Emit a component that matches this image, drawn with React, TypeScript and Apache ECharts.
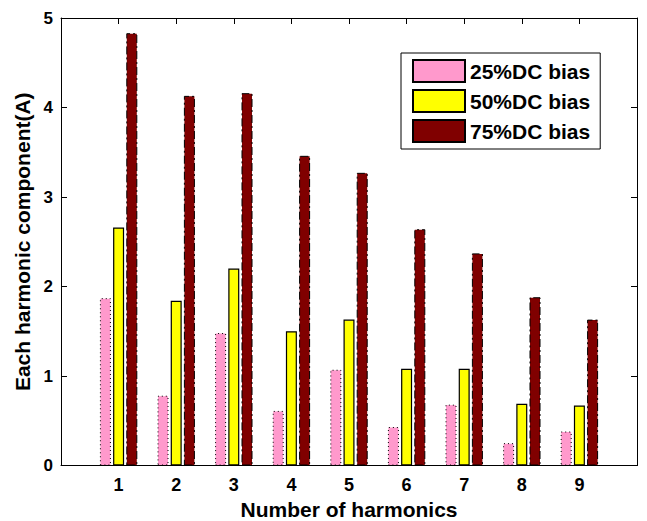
import React, { useEffect, useRef } from "react";
import * as echarts from "echarts";

// Harmonic order on the x axis
const harmonics = [1, 2, 3, 4, 5, 6, 7, 8, 9];

// Harmonic current amplitude (A) for each DC bias level
const bias25 = [1.87, 0.78, 1.48, 0.61, 1.07, 0.43, 0.68, 0.25, 0.38];
const bias50 = [2.66, 1.84, 2.2, 1.5, 1.63, 1.08, 1.08, 0.69, 0.67];
const bias75 = [4.83, 4.13, 4.16, 3.46, 3.27, 2.64, 2.37, 1.88, 1.63];

const seriesNames = ["25%DC bias", "50%DC bias", "75%DC bias"];
const yTicks = [0, 1, 2, 3, 4, 5];

const FONT = '"Liberation Sans", Arial, Helvetica, sans-serif';

const pair = (vals: number[]) => harmonics.map((h, i) => [h, vals[i]]);

export default function App() {
  const ref = useRef<HTMLDivElement>(null);

  useEffect(() => {
    if (!ref.current) return;
    const chart = echarts.init(ref.current, null, { renderer: "svg" });

    const frameAxisX = {
      type: "value" as const,
      min: 0,
      max: 10,
      interval: 1,
    };
    const frameAxisY = {
      type: "value" as const,
      min: yTicks[0],
      max: yTicks[yTicks.length - 1],
      interval: 1,
    };
    const lineStyle = { color: "#000", width: 1 };

    chart.setOption({
      animation: false,
      backgroundColor: "#fff",
      textStyle: { fontFamily: FONT },
      grid: {
        left: 61,
        right: 10,
        top: 18,
        bottom: 55.5,
        show: false,
        containLabel: false,
        outerBoundsMode: "none",
      },
      legend: {
        orient: "vertical",
        left: 401,
        top: 53,
        padding: [6, 10, 6, 11],
        itemWidth: 52,
        itemHeight: 22,
        itemGap: 6,
        borderColor: "#000",
        borderWidth: 1,
        backgroundColor: "#fff",
        icon: "rect",
        data: seriesNames,
        textStyle: {
          fontFamily: FONT,
          fontSize: 21,
          fontWeight: "bold",
          color: "#000",
          width: 124,
        },
      },
      xAxis: [
        {
          ...frameAxisX,
          position: "bottom",
          name: "Number of harmonics",
          nameLocation: "middle",
          nameGap: 34,
          nameTextStyle: {
            fontFamily: FONT,
            fontSize: 21,
            lineHeight: 20,
            fontWeight: "bold",
            color: "#000",
          },
          axisLine: { show: true, onZero: false, lineStyle },
          axisTick: { show: true, inside: true, length: 6, lineStyle },
          axisLabel: {
            margin: 10,
            fontFamily: FONT,
            fontSize: 18,
            fontWeight: "bold",
            color: "#000",
            formatter: (v: number) => (harmonics.includes(v) ? String(v) : ""),
          },
          splitLine: { show: false },
        },
        {
          ...frameAxisX,
          position: "top",
          axisLine: { show: true, onZero: false, lineStyle },
          axisTick: { show: true, inside: true, length: 6, lineStyle },
          axisLabel: { show: false },
          splitLine: { show: false },
        },
      ],
      yAxis: [
        {
          ...frameAxisY,
          position: "left",
          name: "Each harmonic component(A)",
          nameLocation: "middle",
          nameGap: 26,
          nameRotate: 90,
          nameTextStyle: {
            fontFamily: FONT,
            fontSize: 21,
            fontWeight: "bold",
            color: "#000",
          },
          axisLine: { show: true, onZero: false, lineStyle },
          axisTick: { show: true, inside: true, length: 6, lineStyle },
          axisLabel: {
            margin: 8,
            fontFamily: FONT,
            fontSize: 17,
            fontWeight: "bold",
            color: "#000",
          },
          splitLine: { show: false },
        },
        {
          ...frameAxisY,
          position: "right",
          axisLine: { show: true, onZero: false, lineStyle },
          axisTick: { show: true, inside: true, length: 6, lineStyle },
          axisLabel: { show: false },
          splitLine: { show: false },
        },
      ],
      series: [
        {
          name: seriesNames[0],
          type: "bar",
          xAxisIndex: 0,
          yAxisIndex: 0,
          barWidth: 11,
          barGap: "20%",
          data: pair(bias25),
          itemStyle: {
            color: "#FF99CC",
            borderColor: "#000",
            borderWidth: 1,
            borderType: [1, 3],
          },
        },
        {
          name: seriesNames[1],
          type: "bar",
          xAxisIndex: 0,
          yAxisIndex: 0,
          barWidth: 11,
          barGap: "20%",
          data: pair(bias50),
          itemStyle: {
            color: "#FFFF00",
            borderColor: "#000",
            borderWidth: 1.2,
            borderType: "solid",
          },
        },
        {
          name: seriesNames[2],
          type: "bar",
          xAxisIndex: 0,
          yAxisIndex: 0,
          barWidth: 11,
          barGap: "20%",
          data: pair(bias75),
          itemStyle: {
            color: "#800000",
            borderColor: "#000",
            borderWidth: 1,
            borderType: [8, 3, 2, 3],
          },
        },
      ],
    });

    return () => chart.dispose();
  }, []);

  return (
    <div
      ref={ref}
      style={{ position: "fixed", left: 0, top: 0, width: 647, height: 521 }}
    />
  );
}
